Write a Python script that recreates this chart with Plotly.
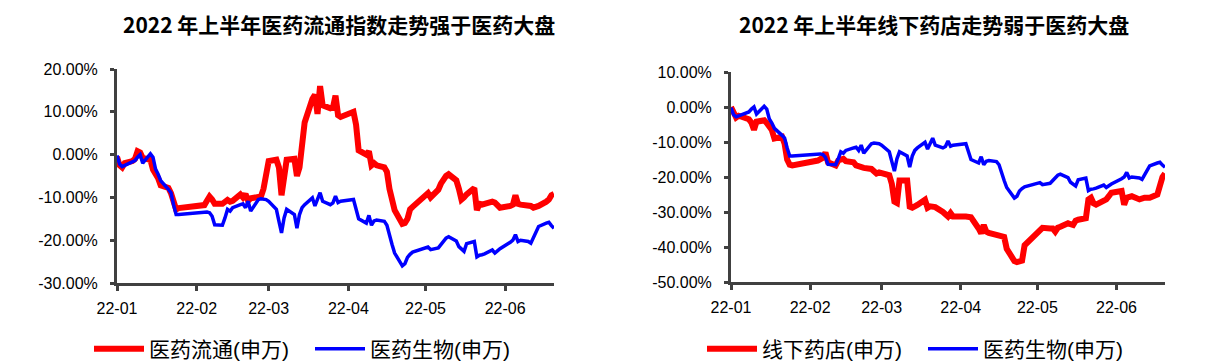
import plotly.graph_objects as go

dates = [
    "2022-01-04", "2022-01-05", "2022-01-06", "2022-01-07", "2022-01-10", "2022-01-11", "2022-01-12",
    "2022-01-13", "2022-01-14", "2022-01-17", "2022-01-18", "2022-01-19", "2022-01-20", "2022-01-21",
    "2022-01-24", "2022-01-25", "2022-01-26", "2022-01-27", "2022-01-28",
    "2022-02-07", "2022-02-08", "2022-02-09", "2022-02-10", "2022-02-11", "2022-02-14", "2022-02-15",
    "2022-02-16", "2022-02-17", "2022-02-18", "2022-02-21", "2022-02-22", "2022-02-23", "2022-02-24",
    "2022-02-25", "2022-02-28",
    "2022-03-01", "2022-03-02", "2022-03-03", "2022-03-04", "2022-03-07", "2022-03-08", "2022-03-09",
    "2022-03-10", "2022-03-11", "2022-03-14", "2022-03-15", "2022-03-16", "2022-03-17", "2022-03-18",
    "2022-03-21", "2022-03-22", "2022-03-23", "2022-03-24", "2022-03-25", "2022-03-28", "2022-03-29",
    "2022-03-30", "2022-03-31",
    "2022-04-01", "2022-04-06", "2022-04-07", "2022-04-08", "2022-04-11", "2022-04-12", "2022-04-13",
    "2022-04-14", "2022-04-15", "2022-04-18", "2022-04-19", "2022-04-20", "2022-04-21", "2022-04-22",
    "2022-04-25", "2022-04-26", "2022-04-27", "2022-04-28", "2022-04-29",
    "2022-05-05", "2022-05-06", "2022-05-09", "2022-05-10", "2022-05-11", "2022-05-12", "2022-05-13",
    "2022-05-16", "2022-05-17", "2022-05-18", "2022-05-19", "2022-05-20", "2022-05-23", "2022-05-24",
    "2022-05-25", "2022-05-26", "2022-05-27", "2022-05-30", "2022-05-31",
    "2022-06-01", "2022-06-02", "2022-06-06", "2022-06-07", "2022-06-08", "2022-06-09", "2022-06-10",
    "2022-06-13", "2022-06-14", "2022-06-15", "2022-06-16", "2022-06-17", "2022-06-20", "2022-06-21",
    "2022-06-22", "2022-06-23",
]

# 医药流通(申万) cumulative return, %
liutong = [
    -0.5, -2.5, -3.0, -2.0, -1.5, -1.0, 0.8, 0.5, -0.8, -1.2, -3.5, -4.5, -5.5, -7.2, -7.8, -9.0, -11.5, -12.8, -12.5,
    -11.8, -10.8, -9.8, -10.5, -11.5, -11.5, -11.2, -10.6, -11.0, -10.8, -9.3, -10.0, -9.2, -10.8, -10.2, -10.0,
    -9.8, -8.0, -4.5, -1.5, -1.2, -3.0, -9.5, -4.0, -1.2, -1.0, -5.0, -3.0, 3.0, 7.5, 13.0, 14.0, 9.5, 16.0, 11.5,
    10.8, 11.0, 13.8, 9.2,
    8.8, 10.0, 7.0, 1.0, 0.0, 0.8, -2.5, -2.0, -2.5, -3.0, -4.0, -8.0, -11.0, -13.0, -16.2, -16.0, -15.0, -12.8, -12.2,
    -9.0, -10.0, -8.2, -6.8, -5.8, -5.0, -4.6, -6.0, -8.0, -10.5, -10.0, -9.3, -7.8, -13.0, -11.5, -11.7, -11.5,
    -11.0, -11.2,
    -12.0, -12.4, -12.0, -11.7, -9.5, -11.5, -11.7, -11.8, -12.0, -12.4, -12.2, -12.0, -11.0, -10.5, -9.5, -9.2,
]

# 医药生物(申万) cumulative return, %
shengwu = [
    -0.2, -2.2, -2.8, -2.5, -1.8, -1.4, -0.6, 0.0, -2.0, 0.2, -0.6, -3.4, -4.6, -6.1, -8.1, -8.9, -11.7, -14.0, -14.0,
    -13.4, -13.4, -13.6, -14.4, -16.4, -16.5, -14.8, -12.8, -13.2, -12.4, -11.7, -11.5, -12.4, -10.9, -13.2, -10.5,
    -10.3, -10.3, -10.5, -10.9, -12.8, -15.6, -18.3, -14.8, -12.8, -14.0, -17.2, -14.0, -12.4, -11.7, -10.1, -12.0,
    -10.5, -8.9, -10.9, -11.7, -11.3, -9.7, -11.2,
    -10.9, -10.5, -12.5, -15.0, -16.0, -14.2, -16.5, -15.5, -15.3, -15.6, -16.5, -19.0, -21.0, -23.0, -26.0, -25.5,
    -24.0, -23.3, -22.8,
    -21.6, -22.2, -21.8, -21.0, -20.5, -19.5, -19.2, -20.2, -21.5, -22.0, -22.6, -20.8, -20.3, -23.9, -23.5, -23.4,
    -23.2, -22.3, -23.0,
    -22.5, -22.0, -20.5, -20.0, -18.7, -20.3, -20.0, -20.3, -20.7, -19.5, -18.0, -16.8, -16.0, -15.8, -16.6, -17.2,
]

# 线下药店(申万) cumulative return, %
yaodian = [
    0.0, -2.0, -3.0, -2.5, -3.0, -3.5, -4.5, -6.5, -4.2, -3.8, -4.6, -5.5, -6.6, -9.0, -8.5, -10.5, -15.0, -16.5, -16.7,
    -15.3, -14.8, -14.5, -13.0, -15.8, -16.7, -15.3, -15.0, -14.8, -15.5, -15.8, -16.7, -17.0, -17.2, -17.4, -17.7,
    -18.5, -19.0, -18.7, -19.0, -19.5, -22.0, -27.0, -27.4, -21.0, -21.0, -28.5, -28.8, -28.5, -28.0, -26.5, -28.8,
    -28.4, -28.4, -28.6, -30.0, -30.8, -31.3, -30.3,
    -31.3, -31.3, -31.3, -31.5, -34.7, -36.1, -33.7, -35.6, -36.0, -36.6, -36.8, -37.0, -37.1, -40.5, -44.0, -44.3,
    -44.0, -43.9, -39.5,
    -34.8, -34.5, -34.7, -34.7, -35.6, -34.5, -34.2, -33.2, -33.5, -33.7, -32.5, -32.2, -31.8, -26.4, -25.9, -27.5,
    -27.9, -26.9, -26.4,
    -25.5, -24.5, -24.0, -27.9, -25.9, -25.5, -25.5, -26.4, -26.0, -25.9, -25.9, -25.9, -25.0, -22.0, -20.0, -19.0,
]

xtick_vals = ["2022-01-04", "2022-02-04", "2022-03-04", "2022-04-04", "2022-05-04", "2022-06-04"]
xtick_text = ["22-01", "22-02", "22-03", "22-04", "22-05", "22-06"]
left_yticks = [-30, -20, -10, 0, 10, 20]
right_yticks = [-50, -40, -30, -20, -10, 0, 10]

title_left = "2022 年上半年医药流通指数走势强于医药大盘"
title_right = "2022 年上半年线下药店走势弱于医药大盘"
name_liutong = "医药流通(申万)"
name_shengwu = "医药生物(申万)"
name_yaodian = "线下药店(申万)"

RED = "#FF0000"
BLUE = "#0000FF"
AXIS = "#404040"
FONT = "Liberation Sans, Arial, Noto Sans CJK SC, sans-serif"
CJK = "Liberation Sans, Noto Sans CJK SC, sans-serif"

# figure is placed by the page with an 8px body margin
W, H, OFF = 1198, 356, 8


def fx(px):
    return (px - OFF) / W


def fy(py):
    return 1 - (py - OFF) / H


fig = go.Figure()
fig.add_trace(go.Scatter(x=dates, y=liutong, name=name_liutong, mode="lines",
                         line=dict(color=RED, width=6), xaxis="x", yaxis="y", legend="legend"))
fig.add_trace(go.Scatter(x=dates, y=shengwu, name=name_shengwu, mode="lines",
                         line=dict(color=BLUE, width=3.5), xaxis="x", yaxis="y", legend="legend"))
fig.add_trace(go.Scatter(x=dates, y=yaodian, name=name_yaodian, mode="lines",
                         line=dict(color=RED, width=6), xaxis="x2", yaxis="y2", legend="legend2"))
fig.add_trace(go.Scatter(x=dates, y=shengwu, name=name_shengwu, mode="lines",
                         line=dict(color=BLUE, width=3.5), xaxis="x2", yaxis="y2", legend="legend2"))

xaxis_common = dict(
    type="date", range=[dates[0], dates[-1]], tickvals=xtick_vals, ticktext=xtick_text,
    showgrid=False, zeroline=False, showline=True, linecolor=AXIS, linewidth=3,
    ticks="outside", ticklen=5, tickwidth=3, tickcolor=AXIS, automargin=False,
    tickfont=dict(family=FONT, size=16, color="black"), ticklabelstandoff=4,
)
yaxis_common = dict(
    showgrid=False, zeroline=False, showline=True, linecolor=AXIS, linewidth=3,
    ticks="outside", ticklen=4, tickwidth=3, tickcolor=AXIS, automargin=False,
    tickfont=dict(family=FONT, size=16, color="black"), ticklabelstandoff=9,
)

legend_common = dict(
    orientation="h", xanchor="center", yanchor="middle", xref="container", yref="container",
    font=dict(family=CJK, size=21, color="black"), itemwidth=50, tracegroupgap=0,
    entrywidth=156, entrywidthmode="pixels", bgcolor="rgba(0,0,0,0)",
)

title_font = dict(family="Noto Sans CJK SC, sans-serif", size=21, color="black")

fig.update_layout(
    width=W, height=H,
    margin=dict(l=0, r=0, t=0, b=0, autoexpand=False),
    paper_bgcolor="white", plot_bgcolor="white",
    xaxis=dict(domain=[fx(117), fx(554)], anchor="y", **xaxis_common),
    yaxis=dict(domain=[fy(283), fy(69)], anchor="x", range=[-30, 20],
               tickvals=left_yticks, ticktext=[f"{v:.2f}%" for v in left_yticks], **yaxis_common),
    xaxis2=dict(domain=[fx(731), fx(1165)], anchor="y2", **xaxis_common),
    yaxis2=dict(domain=[fy(282), fy(72)], anchor="x2", range=[-50, 10],
                tickvals=right_yticks, ticktext=[f"{v:.2f}%" for v in right_yticks], **yaxis_common),
    legend=dict(x=fx(310), y=fy(349), **legend_common),
    legend2=dict(x=fx(923), y=fy(349), **legend_common),
    annotations=[
        dict(text=f"<b>{title_left}</b>", x=fx(339), y=1, xref="paper", yref="paper",
             xanchor="center", yanchor="top", showarrow=False, borderpad=0, font=title_font),
        dict(text=f"<b>{title_right}</b>", x=fx(934), y=1, xref="paper", yref="paper",
             xanchor="center", yanchor="top", showarrow=False, borderpad=0, font=title_font),
    ],
)

fig.write_html("out.html")
